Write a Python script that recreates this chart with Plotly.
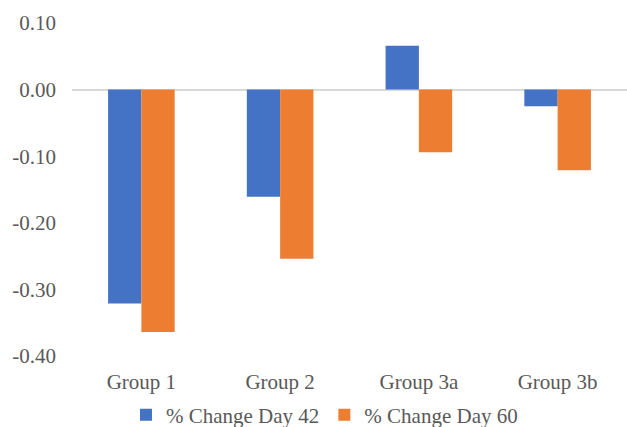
import plotly.graph_objects as go

groups = ["Group 1", "Group 2", "Group 3a", "Group 3b"]
change_day42 = [-0.321, -0.161, 0.066, -0.025]
change_day60 = [-0.364, -0.254, -0.094, -0.121]

tick_vals = [0.10, 0.00, -0.10, -0.20, -0.30, -0.40]
tick_text = ["0.10", "0.00", "-0.10", "-0.20", "-0.30", "-0.40"]

FONT = "Liberation Serif"
GREY = "#595959"

fig = go.Figure()
fig.add_trace(go.Bar(
    x=groups, y=change_day42, name="% Change Day 42",
    marker=dict(color="#4472C4", line=dict(width=0)),
))
fig.add_trace(go.Bar(
    x=groups, y=change_day60, name="% Change Day 60",
    marker=dict(color="#ED7D31", line=dict(width=0)),
))

fig.update_layout(
    width=627, height=427,
    margin=dict(l=72, r=0, t=23, b=71, autoexpand=False),
    paper_bgcolor="white", plot_bgcolor="white",
    barmode="group", bargap=0.52, bargroupgap=0,
    font=dict(family=FONT, size=21, color=GREY),
    showlegend=True,
    legend=dict(
        orientation="h",
        xref="container", x=0.5175, xanchor="center",
        yref="container", y=0.028, yanchor="middle",
        font=dict(family=FONT, size=21, color=GREY),
        bgcolor="rgba(0,0,0,0)",
    ),
)
fig.update_xaxes(
    showgrid=False, showline=False, ticks="", zeroline=False,
    tickfont=dict(family=FONT, size=21, color=GREY),
    ticklabelstandoff=11,
)
fig.update_yaxes(
    range=[-0.40, 0.10], tickvals=tick_vals, ticktext=tick_text,
    showgrid=False, showline=False, ticks="",
    zeroline=True, zerolinecolor="#d9d9d9", zerolinewidth=2,
    tickfont=dict(family=FONT, size=21, color=GREY),
    ticklabelstandoff=15,
)

fig.write_html("out.html")
